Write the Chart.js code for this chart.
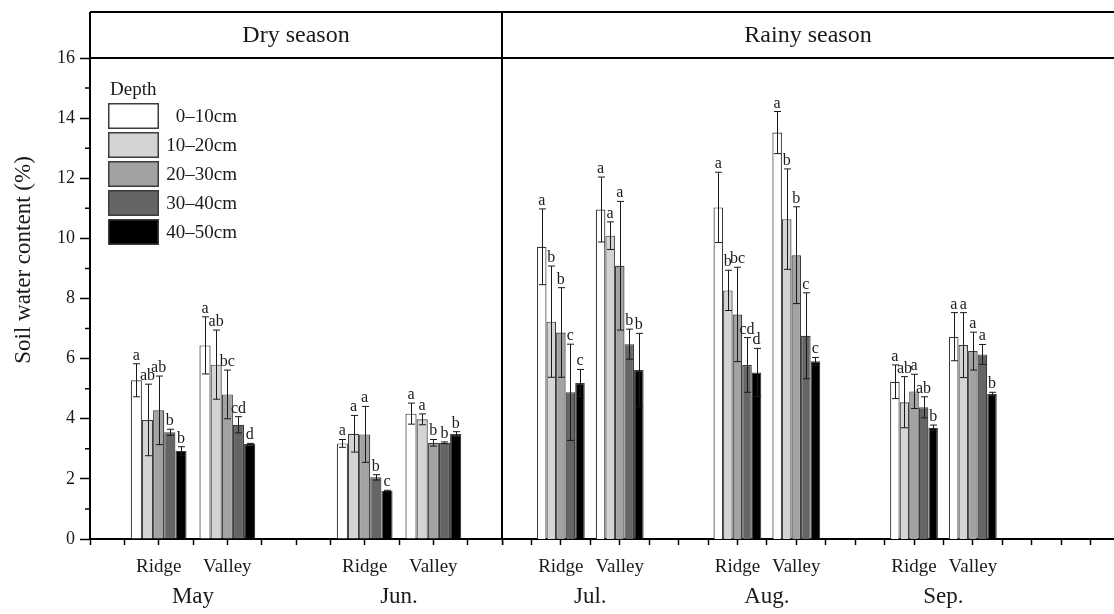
<!DOCTYPE html>
<html>
<head>
<meta charset="utf-8">
<script src="https://cdn.jsdelivr.net/npm/chart.js@4.4.1/dist/chart.umd.min.js"></script>
<style>
  body { margin: 0; background: #fff; width: 1114px; height: 614px; overflow: hidden; position: relative; }
  canvas { position: absolute; top: 0; }
  #dry { left: 0; }
  #rainy { left: 502px; }
</style>
</head>
<body>
<canvas id="dry" width="504" height="614"></canvas>
<canvas id="rainy" width="618" height="614"></canvas>
<script>
// depth classes (one dataset each)
const depths = ["0–10cm", "10–20cm", "20–30cm", "30–40cm", "40–50cm"];
const depthColors = ["#ffffff", "#d4d4d4", "#a2a2a2", "#656565", "#000000"];

const dryMonths = ["May", "Jun."];
const rainyMonths = ["Jul.", "Aug.", "Sep."];

// x tick labels, one per tick mark
const dryTicks = ["", "", "Ridge", "", "Valley", "", "", "", "Ridge", "", "Valley", "", ""];
const rainyTicks = ["", "", "Ridge", "", "Valley", "", "", "", "Ridge", "", "Valley", "", "", "",
  "Ridge", "", "Valley", "", "", "", "", ""];

// soil water content (%), by depth
const mayRidge = [5.28, 3.96, 4.28, 3.55, 2.93];
const mayValley = [6.44, 5.80, 4.81, 3.80, 3.16];
const junRidge = [3.18, 3.50, 3.48, 2.05, 1.60];
const junValley = [4.17, 3.98, 3.20, 3.20, 3.49];
const julRidge = [9.72, 7.23, 6.87, 4.88, 5.19];
const julValley = [10.96, 10.09, 9.09, 6.48, 5.62];
const augRidge = [11.03, 8.27, 7.47, 5.79, 5.54];
const augValley = [13.52, 10.64, 9.44, 6.76, 5.91];
const sepRidge = [5.23, 4.55, 4.91, 4.38, 3.70];
const sepValley = [6.73, 6.45, 6.25, 6.14, 4.82];

// error bars (sd)
const mayRidgeSd = [0.55, 1.19, 1.14, 0.10, 0.14];
const mayValleySd = [0.95, 1.15, 0.81, 0.27, 0.02];
const junRidgeSd = [0.13, 0.61, 0.93, 0.09, 0.02];
const junValleySd = [0.35, 0.18, 0.11, 0.03, 0.08];
const julRidgeSd = [1.26, 1.85, 1.49, 1.60, 0.45];
const julValleySd = [1.08, 0.46, 2.14, 0.50, 1.22];
const augRidgeSd = [1.17, 0.67, 1.57, 0.91, 0.80];
const augValleySd = [0.70, 1.67, 1.61, 1.43, 0.13];
const sepRidgeSd = [0.56, 0.85, 0.57, 0.35, 0.09];
const sepValleySd = [0.80, 1.08, 0.63, 0.33, 0.06];

// significance letters
const mayRidgeSig = ["a", "ab", "ab", "b", "b"];
const mayValleySig = ["a", "ab", "bc", "cd", "d"];
const junRidgeSig = ["a", "a", "a", "b", "c"];
const junValleySig = ["a", "a", "b", "b", "b"];
const julRidgeSig = ["a", "b", "b", "c", "c"];
const julValleySig = ["a", "a", "a", "b", "b"];
const augRidgeSig = ["a", "b", "bc", "cd", "d"];
const augValleySig = ["a", "b", "b", "c", "c"];
const sepRidgeSig = ["a", "ab", "a", "ab", "b"];
const sepValleySig = ["a", "a", "a", "a", "b"];

const SERIF = '"Liberation Serif", "Times New Roman", serif';
const INK = "#1a1a1a";
Chart.defaults.font.family = SERIF;
Chart.defaults.color = INK;

// builds one dataset per depth, placing group values on the Ridge/Valley ticks
function buildDatasets(ticks, groups, sds, sigs) {
  const slots = ticks.map((t, i) => (t ? i : -1)).filter(i => i >= 0);
  return depths.map((label, d) => {
    const data = ticks.map(() => null);
    const sd = ticks.map(() => null);
    const sig = ticks.map(() => "");
    slots.forEach((s, k) => {
      data[s] = groups[k][d];
      sd[s] = sds[k][d];
      sig[s] = sigs[k][d];
    });
    return {
      label,
      data,
      sd,
      sig,
      backgroundColor: depthColors[d],
      borderColor: "#3c3c3c",
      borderWidth: 1.2,
      borderSkipped: "start",
      categoryPercentage: 1.625,
      barPercentage: 1,
    };
  });
}

const errorBars = {
  id: "errorBars",
  afterDatasetsDraw(chart) {
    const { ctx, scales: { y } } = chart;
    ctx.save();
    ctx.strokeStyle = INK;
    ctx.fillStyle = INK;
    ctx.lineWidth = 1;
    ctx.font = "16px " + SERIF;
    ctx.textAlign = "center";
    ctx.textBaseline = "alphabetic";
    chart.data.datasets.forEach((ds, i) => {
      chart.getDatasetMeta(i).data.forEach((bar, j) => {
        const v = ds.data[j];
        if (v == null) return;
        const top = y.getPixelForValue(v + ds.sd[j]);
        const bot = y.getPixelForValue(v - ds.sd[j]);
        const x = Math.round(bar.x) + 0.5;
        ctx.beginPath();
        ctx.moveTo(x, top);
        ctx.lineTo(x, bot);
        ctx.moveTo(x - 3.5, top);
        ctx.lineTo(x + 3.5, top);
        ctx.moveTo(x - 3.5, bot);
        ctx.lineTo(x + 3.5, bot);
        ctx.stroke();
        ctx.fillText(ds.sig[j], bar.x, top - 4);
      });
    });
    ctx.restore();
  },
};

// frame, season header, month names, legend and y title
const panel = {
  id: "panel",
  afterDraw(chart, args, opts) {
    const { ctx, chartArea: a, scales: { x, y } } = chart;
    ctx.save();
    ctx.strokeStyle = "#000";
    ctx.lineWidth = 2;
    ctx.beginPath();
    ctx.moveTo(a.left, 12);
    ctx.lineTo(chart.width, 12);
    ctx.moveTo(a.left, a.top);
    ctx.lineTo(chart.width, a.top);
    if (opts.yAxis) {
      ctx.moveTo(a.left, 12);
      ctx.lineTo(a.left, a.top);
      ctx.moveTo(a.right, 12);
      ctx.lineTo(a.right, a.bottom);
    }
    ctx.stroke();

    ctx.fillStyle = INK;
    ctx.textAlign = "center";
    ctx.textBaseline = "middle";
    ctx.font = "24px " + SERIF;
    const mid = opts.yAxis ? (a.left + a.right) / 2 : 306;
    ctx.fillText(opts.title, mid, 36);

    ctx.font = "23px " + SERIF;
    opts.months.forEach((m, k) => {
      ctx.fillText(m, x.getPixelForValue(3 + 6 * k), 597);
    });

    if (opts.yAxis) {
      // minor ticks
      ctx.lineWidth = 1.5;
      ctx.beginPath();
      for (let v = 1; v < 16; v += 2) {
        const py = y.getPixelForValue(v);
        ctx.moveTo(a.left - 5, py);
        ctx.lineTo(a.left, py);
      }
      ctx.stroke();

      ctx.save();
      ctx.translate(24, 260);
      ctx.rotate(-Math.PI / 2);
      ctx.font = "23px " + SERIF;
      ctx.fillText("Soil water content (%)", 0, 0);
      ctx.restore();

      // legend
      ctx.font = "19px " + SERIF;
      ctx.textAlign = "left";
      ctx.fillText("Depth", 110, 90);
      ctx.textAlign = "right";
      ctx.lineWidth = 1.5;
      ctx.strokeStyle = "#3c3c3c";
      chart.data.datasets.forEach((ds, i) => {
        const top = 103 + 29 * i;
        ctx.fillStyle = ds.backgroundColor;
        ctx.fillRect(108, top, 51, 26);
        ctx.strokeRect(108.75, top + 0.75, 49.5, 24.5);
        ctx.fillStyle = INK;
        ctx.fillText(ds.label, 237, top + 14);
      });
    }
    ctx.restore();
  },
};

function makeChart(id, ticks, groups, sds, sigs, title, months, yAxis) {
  return new Chart(document.getElementById(id), {
    type: "bar",
    data: { labels: ticks, datasets: buildDatasets(ticks, groups, sds, sigs) },
    plugins: [errorBars, panel],
    options: {
      responsive: false,
      animation: false,
      layout: { padding: { top: 58, right: yAxis ? 2 : 0, left: 0, bottom: 0 } },
      plugins: {
        legend: { display: false },
        tooltip: { enabled: false },
        panel: { title, months, yAxis },
      },
      scales: {
        x: {
          offset: false,
          grid: { offset: false, drawOnChartArea: false, tickLength: 6, tickWidth: 1.5, tickColor: "#000" },
          border: { color: "#000", width: 2 },
          ticks: { autoSkip: false, maxRotation: 0, padding: 11, font: { size: 19 } },
          afterFit: s => {
            s.height = 75;
            s.paddingLeft = 0;
            s.paddingRight = 0;
          },
        },
        y: {
          display: yAxis,
          min: 0,
          max: 16,
          ticks: { stepSize: 1, autoSkip: false, padding: 5, font: { size: 18 }, callback: v => (v % 2 ? "" : v) },
          grid: {
            drawOnChartArea: false,
            tickLength: 10,
            tickWidth: 1.5,
            tickColor: c => (c.tick && c.tick.value % 2 ? "rgba(0,0,0,0)" : "#000"),
          },
          border: { color: "#000", width: 2 },
          afterFit: s => { s.width = yAxis ? 90 : 0; },
        },
      },
    },
  });
}

makeChart("dry", dryTicks,
  [mayRidge, mayValley, junRidge, junValley],
  [mayRidgeSd, mayValleySd, junRidgeSd, junValleySd],
  [mayRidgeSig, mayValleySig, junRidgeSig, junValleySig],
  "Dry season", dryMonths, true);

makeChart("rainy", rainyTicks,
  [julRidge, julValley, augRidge, augValley, sepRidge, sepValley],
  [julRidgeSd, julValleySd, augRidgeSd, augValleySd, sepRidgeSd, sepValleySd],
  [julRidgeSig, julValleySig, augRidgeSig, augValleySig, sepRidgeSig, sepValleySig],
  "Rainy season", rainyMonths, false);
</script>
</body>
</html>
